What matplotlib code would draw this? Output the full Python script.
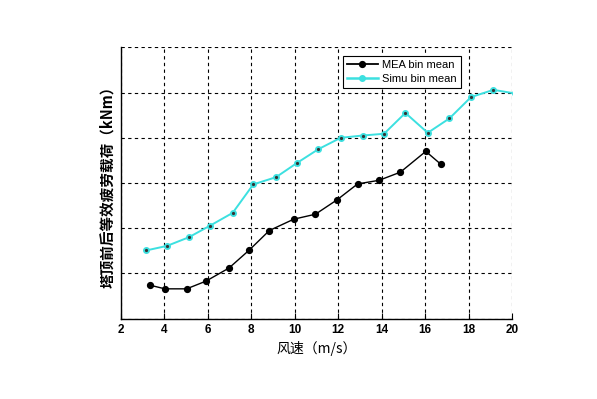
import matplotlib
matplotlib.use("Agg")
import matplotlib.pyplot as plt
from matplotlib.lines import Line2D

mea_x = [3.34, 4.02, 5.02, 5.91, 6.97, 7.91, 8.83, 9.95, 10.95, 11.95, 12.89, 13.88, 14.86, 16.03, 16.71]
mea_y = [0.74, 0.66, 0.66, 0.83, 1.12, 1.52, 1.95, 2.20, 2.31, 2.63, 2.98, 3.06, 3.24, 3.70, 3.42]
simu_x = [3.17, 4.12, 5.12, 6.11, 7.14, 8.09, 9.14, 10.09, 11.09, 12.11, 13.12, 14.11, 15.09, 16.12, 17.12, 18.11, 19.14, 20.15]
simu_y = [1.51, 1.61, 1.80, 2.06, 2.34, 2.97, 3.13, 3.44, 3.75, 4.00, 4.05, 4.09, 4.55, 4.11, 4.43, 4.90, 5.06, 4.98]
x_ticks = [2, 4, 6, 8, 10, 12, 14, 16, 18, 20]
y_ticks = [0, 1, 2, 3, 4, 5, 6]

plt.rcParams['font.family'] = ['Liberation Sans', 'Noto Sans CJK SC', 'DejaVu Sans']

fig = plt.figure(figsize=(5.97, 3.99), dpi=100)
ax = fig.add_axes([0.2027, 0.2013, 0.655, 0.680])

cyan = '#3CE0E0'
ax.plot(simu_x, simu_y, '-', color=cyan, lw=1.4, marker='o', ms=4,
        mfc=cyan, mec=cyan, zorder=3, clip_on=True)
ax.plot(simu_x, simu_y, 'o', color='#333333', ms=1.3, zorder=4)
ax.plot(mea_x, mea_y, '-', color='black', lw=1.0, marker='o', ms=4.2,
        mfc='black', mec='black', zorder=5)

ax.set_xlim(2, 20)
ax.set_ylim(0, 6)
ax.set_xticks(x_ticks)
ax.set_xticklabels([str(t) for t in x_ticks], fontsize=8.5, fontweight='bold')
ax.set_yticks(y_ticks)
ax.set_yticklabels([])
ax.tick_params(axis='both', direction='in', length=4, width=0.8)
ax.tick_params(axis='y', length=0)
ax.grid(True, color='black', linestyle=(0, (3, 3)), linewidth=0.8)
ax.spines['top'].set_visible(False)
ax.spines['right'].set_visible(False)
for s in ['left', 'bottom']:
    ax.spines[s].set_linewidth(1.0)

ax.set_xlabel('风速（m/s）', fontsize=10, family=['Noto Sans CJK SC', 'DejaVu Sans'], labelpad=4)
ax.set_ylabel('塔顶前后等效疲劳载荷（kNm）', fontsize=10.5, fontweight='bold',
              family=['Noto Sans CJK SC', 'DejaVu Sans'], labelpad=1)

h1 = Line2D([], [], color='black', lw=1.3, marker='o', ms=4.2)
h2 = Line2D([], [], color=cyan, lw=1.8, marker='o', ms=4, mfc=cyan, mec=cyan)
leg = ax.legend([h1, h2], ['MEA bin mean', 'Simu bin mean'], loc='upper left',
                bbox_to_anchor=(0.567, 0.968), fontsize=8, fancybox=False,
                framealpha=1, edgecolor='black', borderpad=0.35, labelspacing=0.35,
                handlelength=2.8, handletextpad=0.4, borderaxespad=0)
leg.get_frame().set_linewidth(0.8)
leg.set_zorder(10)

fig.savefig('out.png', dpi=100)
